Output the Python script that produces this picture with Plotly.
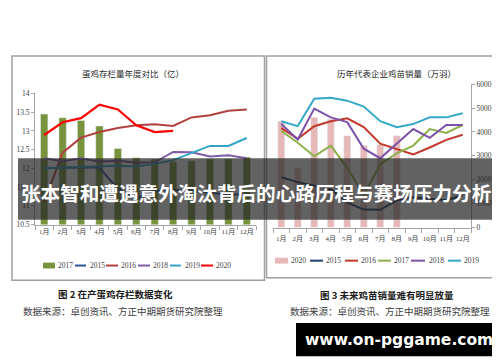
import plotly.graph_objects as go

# ---------------- data ----------------
months = ["1月", "2月", "3月", "4月", "5月", "6月", "7月", "8月", "9月", "10月", "11月", "12月"]

# left chart: 蛋鸡存栏量年度对比（亿）
left_2017 = [13.45, 13.35, 13.28, 13.13, 12.53, 12.28, 12.25, 12.18, 12.2, 12.25, 12.25, 12.3]
left_2015 = [12.0, 12.02, 12.03, 12.02, 11.45, 11.2, 11.4, 11.42, 11.4, 11.35, 11.3, 11.3]
left_2016 = [11.1, 12.42, 12.82, 12.97, 13.08, 13.15, 13.18, 13.13, 13.36, 13.42, 13.54, 13.57]
left_2018 = [12.27, 12.19, 12.27, 12.18, 12.2, 12.15, 12.16, 12.44, 12.43, 12.32, 12.35, 12.27]
left_2019 = [12.0, 12.02, 12.03, 12.05, 12.07, 12.05, 12.12, 12.22, 12.4, 12.6, 12.6, 12.81]
left_2020 = [12.89, 13.23, 13.34, 13.7, 13.57, 13.15, 12.97, 13.0]
left_yticks = [10.5, 11, 11.5, 12, 12.5, 13, 13.5, 14]
left_ylabels = ["10.5", "11", "11.5", "12", "12.5", "13", "13.5", "14"]

# right chart: 历年代表企业鸡苗销量（万羽）
right_2020 = [4450, 2490, 4610, 4530, 3840, 3430, 3470, 3840]
right_2015 = [2100, 1900, 1750, 1600, 1050, 750, 740, 1140, 1270, 1220, 1140, 1350]
right_2016 = [4160, 3710, 4240, 4450, 4570, 4200, 3510, 3270, 3060, 3350, 3670, 3880]
right_2017 = [4040, 3550, 2980, 3430, 2500, 1350, 2650, 3100, 3430, 4120, 3960, 4290]
right_2018 = [4330, 3680, 4980, 4610, 4410, 3300, 2900, 3510, 4120, 3750, 4290, 4290]
right_2019 = [4450, 4245, 5390, 5430, 5310, 5060, 4450, 4200, 4330, 4610, 4610, 4780]
right_yticks = [0, 1000, 2000, 3000, 4000, 5000, 6000]

left_title = "蛋鸡存栏量年度对比（亿）"
right_title = "历年代表企业鸡苗销量（万羽）"
banner = "张本智和遭遇意外淘汰背后的心路历程与赛场压力分析"
cap_left = "图 2 在产蛋鸡存栏数据变化"
cap_right = "图 3 未来鸡苗销量难有明显放量"
source = "数据来源：卓创资讯、方正中期期货研究院整理"
url = "www.on-pggame.com"

# ---------------- styling ----------------
W, H = 500, 362
def px(x): return x / W
def py(y): return 1 - y / H

FONT = "Liberation Serif, Noto Sans CJK SC, serif"
CJK = "Noto Sans CJK SC, sans-serif"
TXT = "#404040"
AX = "#A6A6A6"

C_L = dict(c2017="#77933C", c2015="#2F5597", c2016="#B0413E", c2018="#7F5CA8",
           c2019="#31A5C4", c2020="#FF0000")
C_R = dict(c2020="#E6B9B8", c2015="#1F3F6E", c2016="#C0392B", c2017="#8DB04A",
           c2018="#7B52A8", c2019="#35A9C8")

fig = go.Figure()

# left traces
fig.add_trace(go.Bar(x=months, y=left_2017, marker_color=C_L["c2017"], width=0.4,
                     xaxis="x", yaxis="y", name="2017"))
for vals, key, nm in [(left_2015, "c2015", "2015"), (left_2016, "c2016", "2016"),
                      (left_2018, "c2018", "2018"), (left_2019, "c2019", "2019")]:
    fig.add_trace(go.Scatter(x=months, y=vals, mode="lines", line=dict(color=C_L[key], width=2),
                             xaxis="x", yaxis="y", name=nm))
fig.add_trace(go.Scatter(x=months[:len(left_2020)], y=left_2020, mode="lines",
                         line=dict(color=C_L["c2020"], width=2.2), xaxis="x", yaxis="y", name="2020"))

# right traces
fig.add_trace(go.Bar(x=months[:len(right_2020)], y=right_2020, marker_color=C_R["c2020"], width=0.42,
                     xaxis="x2", yaxis="y2", name="2020"))
for vals, key, nm in [(right_2015, "c2015", "2015"), (right_2016, "c2016", "2016"),
                      (right_2017, "c2017", "2017"), (right_2018, "c2018", "2018"),
                      (right_2019, "c2019", "2019")]:
    fig.add_trace(go.Scatter(x=months, y=vals, mode="lines", line=dict(color=C_R[key], width=2),
                             xaxis="x2", yaxis="y2", name=nm))

tickfont = dict(family=FONT, size=7.5, color=TXT)
xtickfont = dict(family=FONT, size=7, color=TXT)

fig.update_layout(
    width=W, height=H, margin=dict(l=0, r=0, t=0, b=0),
    paper_bgcolor="white", plot_bgcolor="white", showlegend=False, bargap=0.5,
    xaxis=dict(domain=[px(27), px(248)], anchor="y", type="category", categoryorder="array",
               categoryarray=months, range=[-0.5, 11.5], showline=True, linecolor=AX, linewidth=1,
               ticks="outside", tickson="boundaries", ticklen=4, tickcolor=AX, tickangle=0,
               tickfont=xtickfont, showgrid=False, zeroline=False),
    yaxis=dict(domain=[py(218), py(83.5)], anchor="x", range=[10.5, 14], tickvals=left_yticks,
               ticktext=left_ylabels, showline=True, linecolor=AX, linewidth=1, ticks="outside",
               ticklen=3, tickcolor=AX, tickfont=tickfont, showgrid=False, zeroline=False),
    xaxis2=dict(domain=[px(265), px(463)], anchor="y2", type="category", categoryorder="array",
                categoryarray=months, range=[-0.5, 11.5], showline=True, linecolor=AX, linewidth=1,
                ticks="outside", tickson="boundaries", ticklen=4, tickcolor=AX, tickangle=0,
                ticklabelstandoff=4,
                tickfont=xtickfont, showgrid=False, zeroline=False),
    yaxis2=dict(domain=[py(221), py(74)], anchor="x2", side="right", range=[0, 6000],
                tickvals=right_yticks, showline=True, linecolor=AX, linewidth=1, ticks="outside",
                ticklen=3, tickcolor=AX, tickfont=tickfont, showgrid=False, zeroline=False),
)

shapes = []
annots = []

def note(text, x, y, font, xanchor="center"):
    annots.append(dict(text=text, x=px(x), y=py(y), xref="paper", yref="paper", showarrow=False,
                       xanchor=xanchor, yanchor="middle", font=font))

# panel frames
shapes.append(dict(type="rect", xref="paper", yref="paper", x0=px(4), x1=px(256.5), y0=py(275), y1=py(45),
                   line=dict(color="#A0A0A0", width=1.5), fillcolor="rgba(0,0,0,0)", layer="below"))
shapes.append(dict(type="rect", xref="paper", yref="paper", x0=px(258.5), x1=px(494.5), y0=py(272.5), y1=py(45),
                   line=dict(color="#A0A0A0", width=1.5), fillcolor="rgba(0,0,0,0)", layer="below"))

# titles
note(left_title, 125, 63, dict(family=CJK, size=8.5, color="#262626"))
note(right_title, 388, 63, dict(family=CJK, size=8.5, color="#262626"))

# manual legends
def leg_item(x0, x1, tx, y, color, label, box=False):
    if box:
        shapes.append(dict(type="rect", xref="paper", yref="paper", x0=px(x0), x1=px(x1),
                           y0=py(y + 3), y1=py(y - 3), line=dict(width=0), fillcolor=color, layer="above"))
    else:
        shapes.append(dict(type="line", xref="paper", yref="paper", x0=px(x0), x1=px(x1),
                           y0=py(y), y1=py(y), line=dict(color=color, width=2), layer="above"))
    note(label, tx, y, dict(family=FONT, size=7.5, color=TXT), xanchor="left")

yl = 260
leg_item(35, 47, 47.5, yl, C_L["c2017"], "2017", box=True)
leg_item(67, 78, 79.5, yl, C_L["c2015"], "2015")
leg_item(98, 110, 111, yl, C_L["c2016"], "2016")
leg_item(130, 142, 142.5, yl, C_L["c2018"], "2018")
leg_item(162, 173, 174.5, yl, C_L["c2019"], "2019")
leg_item(193, 205, 206, yl, C_L["c2020"], "2020")

yr = 255
leg_item(267, 280, 281, yr, C_R["c2020"], "2020", box=True)
leg_item(302, 315, 316, yr, C_R["c2015"], "2015")
leg_item(337, 350, 351, yr, C_R["c2016"], "2016")
leg_item(370, 383, 384, yr, C_R["c2017"], "2017")
leg_item(403, 417, 418.5, yr, C_R["c2018"], "2018")
leg_item(440, 453, 454, yr, C_R["c2019"], "2019")

# captions
note("<b>" + cap_left + "</b>", 107, 289, dict(family=CJK, size=9.5, color="#1a1a1a"))
note(source, 115, 307, dict(family=CJK, size=9.5, color=TXT))
note("<b>" + cap_right + "</b>", 379, 290, dict(family=CJK, size=9.5, color="#1a1a1a"))
note(source, 382, 307, dict(family=CJK, size=9.5, color=TXT))

# url box
shapes.append(dict(type="rect", xref="paper", yref="paper", x0=px(288), x1=px(493), y0=py(353), y1=py(319),
                   line=dict(width=0), fillcolor="black", layer="above"))
note("<b>" + url + "</b>", 390.5, 336, dict(family="DejaVu Sans, sans-serif", size=15.5, color="white"))

# banner overlay
shapes.append(dict(type="rect", xref="paper", yref="paper", x0=px(10), x1=px(492), y0=py(213), y1=py(150),
                   line=dict(width=0), fillcolor="rgba(38,38,38,0.72)", layer="above"))
note("<b>" + banner + "</b>", 248, 185, dict(family=CJK, size=19.6, color="white"))

fig.update_layout(shapes=shapes, annotations=annots)
fig.write_html("out.html")
